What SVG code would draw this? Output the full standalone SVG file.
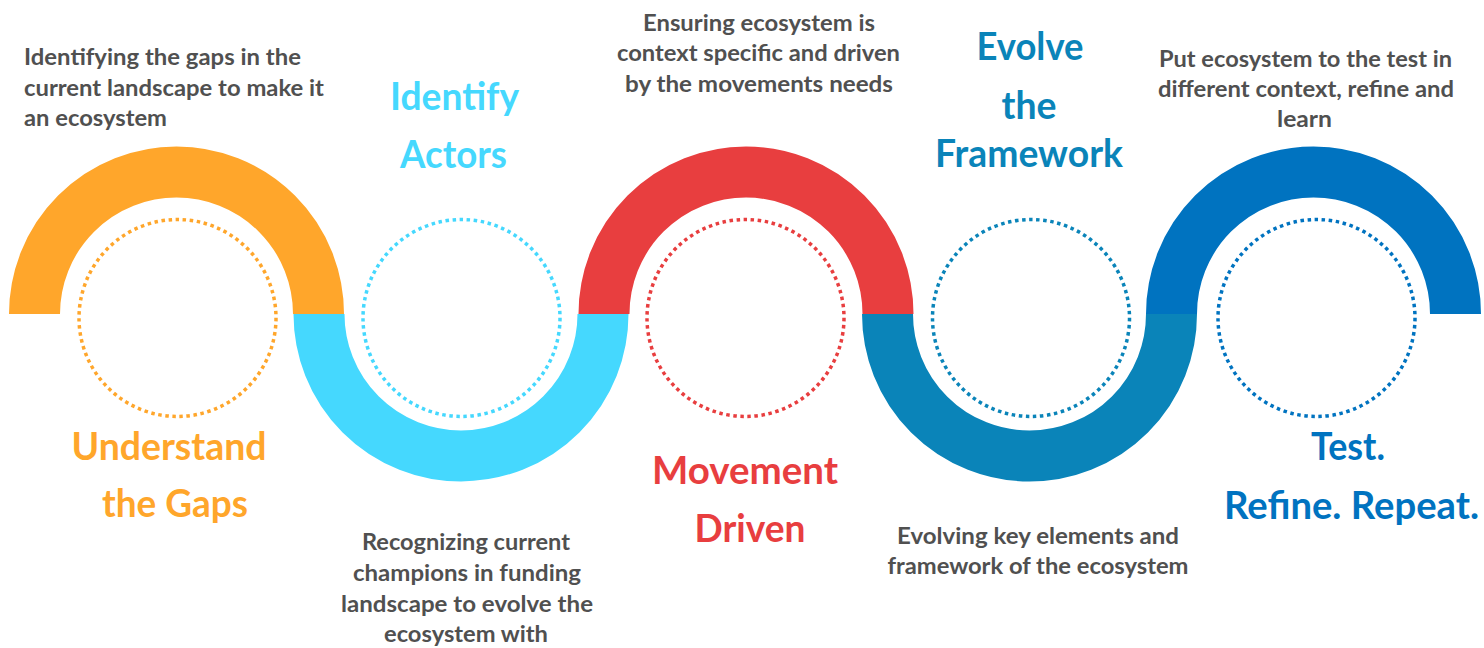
<svg xmlns="http://www.w3.org/2000/svg" width="1484" height="648" viewBox="0 0 1484 648">
<style>
.arc{fill:none;stroke-width:51;stroke-linecap:butt}
.dot{fill:none;stroke-width:3.5;stroke-dasharray:3.5 3.6}
.desc{font-family:Lato,"Open Sans","Liberation Sans",sans-serif;font-weight:700;font-size:22px;fill:#505050}
.title{font-family:Lato,"Open Sans","Liberation Sans",sans-serif;font-weight:700;font-size:39px;text-anchor:middle}
.mid{text-anchor:middle}
</style>
<rect width="1484" height="648" fill="#ffffff"/>
<g id="connectors"></g>
<g id="step1">
<path class="arc" stroke="#FFA62B" d="M34.5,314 A142,142 0 0 1 318.5,314"/>
<circle class="dot" stroke="#FFA62B" cx="177.5" cy="318" r="98.5"/>
<text class="desc" x="24" y="65" textLength="277" lengthAdjust="spacingAndGlyphs">Identifying the gaps in the</text>
<text class="desc" x="24" y="95.5" textLength="300" lengthAdjust="spacingAndGlyphs">current landscape to make it</text>
<text class="desc" x="24" y="126" textLength="143" lengthAdjust="spacingAndGlyphs">an ecosystem</text>
<text class="title" fill="#FFA62B" x="169" y="460" textLength="195" lengthAdjust="spacingAndGlyphs">Understand</text>
<text class="title" fill="#FFA62B" x="175" y="517" textLength="146" lengthAdjust="spacingAndGlyphs">the Gaps</text>
</g>
<g id="step2">
<path class="arc" stroke="#45D8FE" d="M319,314 A142,142 0 0 0 603,314"/>
<circle class="dot" stroke="#45D8FE" cx="461.5" cy="318" r="98.5"/>
<text class="title" fill="#45D8FE" x="454.5" y="109.5" textLength="129" lengthAdjust="spacingAndGlyphs">Identify</text>
<text class="title" fill="#45D8FE" x="453.5" y="167.5" textLength="107" lengthAdjust="spacingAndGlyphs">Actors</text>
<text class="desc mid" x="466" y="550" textLength="208" lengthAdjust="spacingAndGlyphs">Recognizing current</text>
<text class="desc mid" x="467" y="580.5" textLength="228" lengthAdjust="spacingAndGlyphs">champions in funding</text>
<text class="desc mid" x="467" y="611.5" textLength="252" lengthAdjust="spacingAndGlyphs">landscape to evolve the</text>
<text class="desc mid" x="466" y="642" textLength="164" lengthAdjust="spacingAndGlyphs">ecosystem with</text>
</g>
<g id="step3">
<path class="arc" stroke="#E83E3F" d="M604,314 A142,142 0 0 1 888,314"/>
<circle class="dot" stroke="#E83E3F" cx="745.5" cy="318" r="98.5"/>
<text class="desc mid" x="759" y="30.5" textLength="232" lengthAdjust="spacingAndGlyphs">Ensuring ecosystem is</text>
<text class="desc mid" x="758.5" y="61" textLength="283" lengthAdjust="spacingAndGlyphs">context specific and driven</text>
<text class="desc mid" x="759" y="91.5" textLength="268" lengthAdjust="spacingAndGlyphs">by the movements needs</text>
<text class="title" fill="#E83E3F" x="745" y="483.5" textLength="186" lengthAdjust="spacingAndGlyphs">Movement</text>
<text class="title" fill="#E83E3F" x="750" y="542" textLength="111" lengthAdjust="spacingAndGlyphs">Driven</text>
</g>
<g id="step4">
<path class="arc" stroke="#0A84B9" d="M887.5,314 A142,142 0 0 0 1171.5,314"/>
<circle class="dot" stroke="#0A84B9" cx="1031" cy="318" r="98.5"/>
<text class="title" fill="#0A84B9" x="1030" y="59.5" textLength="107" lengthAdjust="spacingAndGlyphs">Evolve</text>
<text class="title" fill="#0A84B9" x="1029" y="118.5" textLength="55" lengthAdjust="spacingAndGlyphs">the</text>
<text class="title" fill="#0A84B9" x="1029" y="167" textLength="188" lengthAdjust="spacingAndGlyphs">Framework</text>
<text class="desc mid" x="1038" y="543.5" textLength="282" lengthAdjust="spacingAndGlyphs">Evolving key elements and</text>
<text class="desc mid" x="1038" y="574" textLength="301" lengthAdjust="spacingAndGlyphs">framework of the ecosystem</text>
</g>
<g id="step5">
<path class="arc" stroke="#0073C0" d="M1171.5,314 A142,142 0 0 1 1455.5,314"/>
<circle class="dot" stroke="#0073C0" cx="1316.5" cy="318" r="98.5"/>
<text class="desc mid" x="1305.5" y="66.5" textLength="293" lengthAdjust="spacingAndGlyphs">Put ecosystem to the test in</text>
<text class="desc mid" x="1306" y="96.5" textLength="296" lengthAdjust="spacingAndGlyphs">different context, refine and</text>
<text class="desc mid" x="1304.5" y="127" textLength="55" lengthAdjust="spacingAndGlyphs">learn</text>
<text class="title" fill="#0073C0" x="1348" y="459.5" textLength="74" lengthAdjust="spacingAndGlyphs">Test.</text>
<text class="title" fill="#0073C0" x="1351.5" y="518.5" textLength="255" lengthAdjust="spacingAndGlyphs">Refine. Repeat.</text>
</g>
</svg>
